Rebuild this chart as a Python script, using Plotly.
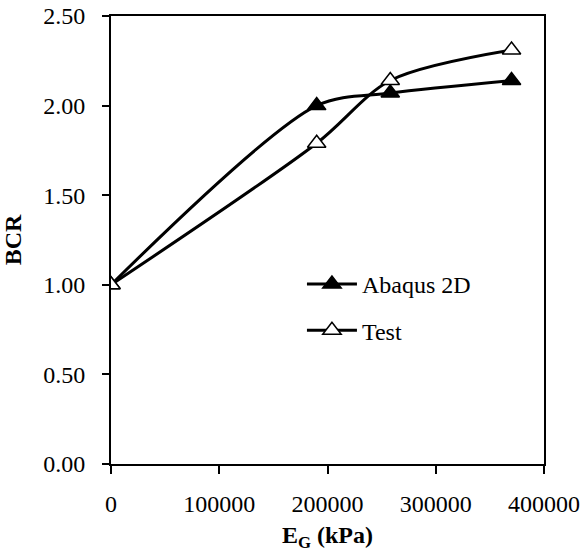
import plotly.graph_objects as go

eg_kpa = [0, 190000, 258000, 370000]
bcr_abaqus = [1.00, 2.00, 2.07, 2.14]
bcr_test = [1.00, 1.79, 2.14, 2.31]
x_ticks = [0, 100000, 200000, 300000, 400000]
y_ticks = [0, 0.5, 1.0, 1.5, 2.0, 2.5]
y_tick_labels = ["0.00", "0.50", "1.00", "1.50", "2.00", "2.50"]

FONT = "Liberation Serif"
FS = 24

fig = go.Figure()
fig.add_trace(go.Scatter(
    x=eg_kpa, y=bcr_abaqus, name="Abaqus 2D", mode="lines+markers",
    line=dict(color="black", width=3, shape="spline", smoothing=0.85),
    marker=dict(symbol="triangle-up", size=16, color="black",
                line=dict(color="black", width=1.5)),
    legendgroup="a",
))
fig.add_trace(go.Scatter(
    x=eg_kpa, y=bcr_test, name="Test", mode="lines+markers",
    line=dict(color="black", width=3, shape="spline", smoothing=0.85),
    marker=dict(symbol="triangle-up", size=16, color="white",
                line=dict(color="black", width=1.5)),
    legendgroup="b",
))

fig.update_layout(
    width=585, height=558,
    margin=dict(l=111, r=41, t=16, b=94, autoexpand=False),
    paper_bgcolor="white", plot_bgcolor="white",
    font=dict(family=FONT, size=FS, color="black"),
    showlegend=True,
    legend=dict(x=0.441, y=0.451, xanchor="left", yanchor="top",
                bgcolor="rgba(0,0,0,0)", font=dict(family=FONT, size=FS),
                tracegroupgap=12, itemwidth=50),
    xaxis=dict(
        range=[0, 400000], tickvals=x_ticks, ticktext=[str(v) for v in x_ticks],
        showgrid=False, zeroline=False, automargin=True, ticklabeloverflow="allow",
        showline=True, linecolor="black", linewidth=2, mirror=True,
        ticks="outside", ticklen=8, tickwidth=2, tickcolor="black",
        ticklabelstandoff=9,
        title=dict(text="<b>E<sub>G</sub> (kPa)</b>", font=dict(family=FONT, size=FS), standoff=10),
    ),
    yaxis=dict(
        range=[0, 2.5], tickvals=y_ticks, ticktext=y_tick_labels,
        showgrid=False, zeroline=False, automargin=True, ticklabeloverflow="allow",
        showline=True, linecolor="black", linewidth=2, mirror=True,
        ticks="outside", ticklen=7, tickwidth=2, tickcolor="black",
        ticklabelstandoff=12,
        title=dict(text="<b>BCR</b>", font=dict(family=FONT, size=FS), standoff=18),
    ),
)

fig.write_html("out.html", config={"displayModeBar": False},
               post_script="document.body.style.margin='0';")
